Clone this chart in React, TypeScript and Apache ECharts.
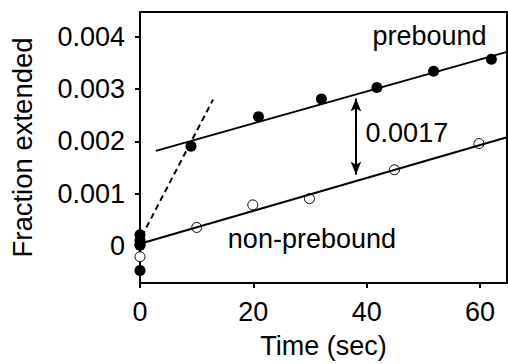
import { useEffect, useRef } from "react";
import * as echarts from "echarts";

const yTicks = [0, 0.001, 0.002, 0.003, 0.004];
const xTicks = [0, 20, 40, 60];

const prebound: number[][] = [
  [0, 0.00022], [0, 0.00011], [0, 0.00002], [0, -0.00046],
  [9.0, 0.00191], [20.9, 0.00247], [32.0, 0.00281], [41.8, 0.00303], [51.8, 0.00334], [62.0, 0.00357],
];
const nonPrebound: number[][] = [
  [0, 0.00004], [0, -0.0002],
  [10.0, 0.00036], [19.9, 0.00079], [29.9, 0.00091], [44.9, 0.00146], [59.8, 0.00196],
];
const preboundFit: number[][] = [[2.8, 0.00182], [64.75, 0.00371]];
const nonPreboundFit: number[][] = [[0, 0.00005], [64.75, 0.00208]];
const initialSlope: number[][] = [[0.3, 0.00019], [12.9, 0.0028]];
const gapArrow: number[][] = [[38.1, 0.00282], [38.1, 0.00137]];
const annotations: (number | string)[][] = [
  [41.0, 0.00402, "prebound"],
  [15.5, 0.00014, "non-prebound"],
  [39.8, 0.00217, "0.0017"],
];

const FONT = "Liberation Sans";

export default function App() {
  const ref = useRef<HTMLDivElement>(null);
  useEffect(() => {
    const chart = echarts.init(ref.current!, null, { renderer: "svg" });
    chart.setOption({
      animation: false,
      backgroundColor: "#fff",
      textStyle: { fontFamily: FONT, color: "#000" },
      grid: {
        left: 139, top: 12, right: 1, bottom: 75,
        show: true, borderColor: "#000", borderWidth: 2,
      },
      xAxis: {
        type: "value", min: 0, max: 64.75,
        name: "Time (sec)", nameLocation: "middle", nameGap: 49,
        nameTextStyle: { fontFamily: FONT, fontSize: 27, color: "#000" },
        axisLine: { show: true, onZero: false, lineStyle: { color: "#000", width: 2 } },
        axisTick: { show: true, inside: false, length: 5, lineStyle: { color: "#000", width: 2 }, customValues: xTicks },
        axisLabel: { fontFamily: FONT, fontSize: 27, color: "#000", margin: 15, customValues: xTicks },
        splitLine: { show: false },
      },
      yAxis: {
        type: "value", min: -0.0007, max: 0.00447,
        name: "Fraction extended", nameLocation: "middle", nameGap: 104,
        nameTextStyle: { fontFamily: FONT, fontSize: 27.5, color: "#000" },
        axisLine: { show: true, onZero: false, lineStyle: { color: "#000", width: 2 } },
        axisTick: { show: true, inside: false, length: 5, lineStyle: { color: "#000", width: 2 }, customValues: yTicks },
        axisLabel: {
          fontFamily: FONT, fontSize: 27, color: "#000", margin: 15, customValues: yTicks,
          formatter: (v: number) => (v === 0 ? "0" : v.toFixed(3)),
        },
        splitLine: { show: false },
      },
      series: [
        {
          name: "prebound fit", type: "line", data: preboundFit, showSymbol: false, symbol: "none",
          lineStyle: { color: "#000", width: 2 }, silent: true,
        },
        {
          name: "non-prebound fit", type: "line", data: nonPreboundFit, showSymbol: false, symbol: "none",
          lineStyle: { color: "#000", width: 2 }, silent: true,
          markLine: {
            silent: true, symbol: ["arrow", "arrow"], symbolSize: [8, 13],
            lineStyle: { color: "#000", width: 2, type: "solid" },
            itemStyle: { color: "#000" },
            label: { show: false },
            data: [[{ coord: gapArrow[0] }, { coord: gapArrow[1] }]],
          },
        },
        {
          name: "initial", type: "line", data: initialSlope, showSymbol: false, symbol: "none",
          lineStyle: { color: "#000", width: 2, type: [6, 4] }, silent: true,
        },
        {
          name: "non-prebound", type: "scatter", data: nonPrebound, symbol: "circle", symbolSize: 10, clip: false,
          itemStyle: { color: "#fff", borderColor: "#000", borderWidth: 1, opacity: 1 },
        },
        {
          name: "prebound", type: "scatter", data: prebound, symbol: "circle", symbolSize: 11, clip: false,
          itemStyle: { color: "#000", opacity: 1 },
        },
        {
          name: "annotations", type: "scatter", data: annotations, symbolSize: 0, silent: true,
          itemStyle: { opacity: 1 },
          label: {
            show: true, position: "right", distance: 0,
            formatter: (p: any) => p.value[2],
            fontFamily: FONT, fontSize: 27, color: "#000", opacity: 1,
          },
        },
      ],
    });
    return () => chart.dispose();
  }, []);
  return <div ref={ref} style={{ position: "fixed", left: 0, top: 0, width: 508, height: 364 }} />;
}
